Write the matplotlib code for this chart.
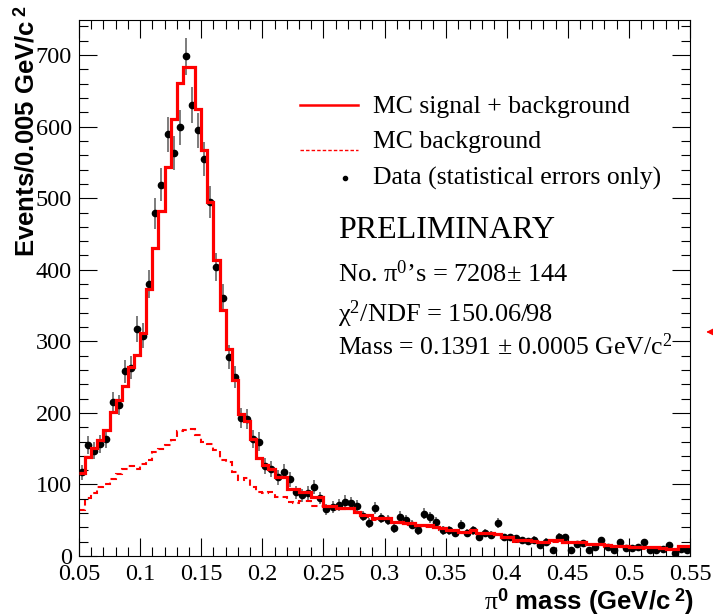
import matplotlib
matplotlib.use('Agg')
import matplotlib.pyplot as plt
import numpy as np
from matplotlib.ticker import MultipleLocator

plt.rcParams['font.family'] = ['Liberation Serif', 'DejaVu Serif']
plt.rcParams['mathtext.fontset'] = 'custom'
plt.rcParams['mathtext.rm'] = 'Liberation Serif'
plt.rcParams['mathtext.it'] = 'Liberation Serif:italic'
plt.rcParams['mathtext.bf'] = 'Liberation Sans:bold'

# pi0 mass spectrum, 100 bins of 0.005 GeV/c^2 from 0.05 to 0.55
edges = np.linspace(0.05, 0.55, 101)
centers = 0.5 * (edges[1:] + edges[:-1])

data = [117, 155, 147, 156, 163, 215, 211, 258, 263, 317,
        308, 380, 479, 519, 589, 563, 599, 698, 630, 595,
        555, 495, 404, 361, 278, 250, 193, 191, 163, 160,
        126, 122, 110, 118, 107, 89, 85, 88, 96, 81,
        65, 68, 71, 76, 74, 70, 56, 46, 67, 53,
        50, 39, 55, 50, 44, 36, 59, 54, 47, 36,
        36, 32, 44, 32, 36, 27, 32, 29, 46, 26,
        26, 25, 22, 21, 23, 16, 20, 9, 27, 26,
        9, 17, 18, 9, 12, 22, 12, 8, 19, 11,
        11, 12, 19, 9, 8, 10, 16, 4, 10, 8]

mc_total = [116, 139, 151, 162, 176, 201, 218, 237, 264, 281,
            312, 373, 431, 482, 544, 610, 661, 684, 683, 624,
            567, 495, 414, 344, 289, 246, 199, 189, 163, 137,
            127, 121, 110, 110, 94, 94, 90, 90, 83, 83,
            70, 70, 67, 67, 67, 62, 57, 57, 53, 53,
            53, 48, 48, 46, 46, 43, 43, 43, 41, 39,
            37, 36, 34, 34, 36, 32, 32, 32, 31, 27,
            27, 22, 22, 22, 21, 20, 20, 22, 22, 20,
            20, 20, 20, 17, 17, 17, 15, 14, 14, 14,
            12, 12, 12, 12, 12, 11, 10, 10, 14, 14]

mc_bkg = [64, 81, 88, 96, 101, 107, 114, 121, 126, 121,
          128, 134, 146, 149, 155, 162, 174, 176, 177, 169,
          160, 157, 148, 134, 132, 118, 106, 109, 97, 90,
          88, 90, 83, 83, 76, 74, 77, 77, 70, 70,
          68, 68, 65, 65, 65, 60, 55, 55, 51, 51,
          51, 46, 46, 44, 44, 41, 41, 41, 39, 37,
          35, 34, 32, 32, 34, 30, 30, 30, 29, 25,
          25, 20, 20, 20, 19, 18, 18, 20, 20, 18,
          18, 18, 18, 15, 15, 15, 13, 12, 12, 12,
          10, 10, 10, 10, 10, 9, 8, 8, 12, 12]

data = np.array(data, dtype=float)
err = np.sqrt(data)

fig = plt.figure(figsize=(7.13, 6.16), dpi=100)
ax = fig.add_axes([79 / 713, 60 / 616, 611 / 713, 536 / 616])

ax.stairs(mc_bkg, edges, color='red', lw=1.5, ls=(0, (3, 2)), baseline=None)
ax.errorbar(centers, data, yerr=err, fmt='o', color='black', ms=4.5,
            ecolor='0.35', elinewidth=1.1, capsize=0, zorder=3)
ax.stairs(mc_total, edges, color='red', lw=2.3, baseline=None, zorder=4)

ax.set_xlim(0.05, 0.55)
ax.set_ylim(0, 749)
ax.xaxis.set_major_locator(MultipleLocator(0.05))
ax.xaxis.set_minor_locator(MultipleLocator(0.01))
ax.yaxis.set_major_locator(MultipleLocator(100))
ax.yaxis.set_minor_locator(MultipleLocator(20))
ax.xaxis.set_major_formatter(plt.FuncFormatter(lambda v, p: ('%g' % round(v, 3))))
ax.tick_params(which='both', direction='in', top=True, right=True, labelsize=17.5, width=0.8)
ax.tick_params(which='major', length=13)
ax.tick_params(which='minor', length=6.5)
ax.tick_params(axis='x', pad=6)
ax.tick_params(axis='y', pad=5)

# legend drawn by hand, ROOT style
tr = ax.transAxes
ax.plot([0.362, 0.457], [0.841, 0.841], color='red', lw=1.8, transform=tr)
ax.plot([0.362, 0.457], [0.757, 0.757], color='red', lw=1.0, ls=(0, (2.5, 1.5)), transform=tr)
ax.plot([0.435], [0.705], 'o', color='black', ms=3, transform=tr)
ax.text(0.481, 0.838, 'MC signal + background', fontsize=18.5, va='center', transform=tr)
ax.text(0.481, 0.772, 'MC background', fontsize=18.5, va='center', transform=tr)
ax.text(0.481, 0.705, 'Data (statistical errors only)', fontsize=18.5, va='center', transform=tr)

ax.text(0.424, 0.608, 'PRELIMINARY', fontsize=23, va='center', transform=tr)
ax.text(0.424, 0.526, 'No. \u03c0$^{0}$\u2019s = 7208\u00b1 144', fontsize=19, va='center', transform=tr)
ax.text(0.424, 0.451, '\u03c7$^{2}$/NDF = 150.06/98', fontsize=19, va='center', transform=tr)
ax.text(0.424, 0.390, 'Mass = 0.1391 \u00b1 0.0005 GeV/c$^{2}$', fontsize=18.5, va='center', transform=tr)

ax.annotate('', xy=(1.022, 0.418), xytext=(1.04, 0.418), xycoords=tr,
            arrowprops=dict(arrowstyle='-|>', color='red', lw=0.8), annotation_clip=False)

fig.text(26 / 713, 1 - 5 / 616, 'Events/0.005 GeV/c$^{\\mathbf{\\ 2}}$', rotation=90,
         ha='center', va='top', fontsize=18.5, fontweight='bold', family='Liberation Sans')
fig.text(694 / 713, 1 - 602 / 616, '$\\mathrm{\\pi}^{\\mathbf{0}}$ mass (GeV/c$^{\\mathbf{\\ 2}}$)',
         ha='right', va='center', fontsize=18.5, fontweight='bold', family='Liberation Sans')

fig.savefig('out.png', dpi=100, facecolor='white')
